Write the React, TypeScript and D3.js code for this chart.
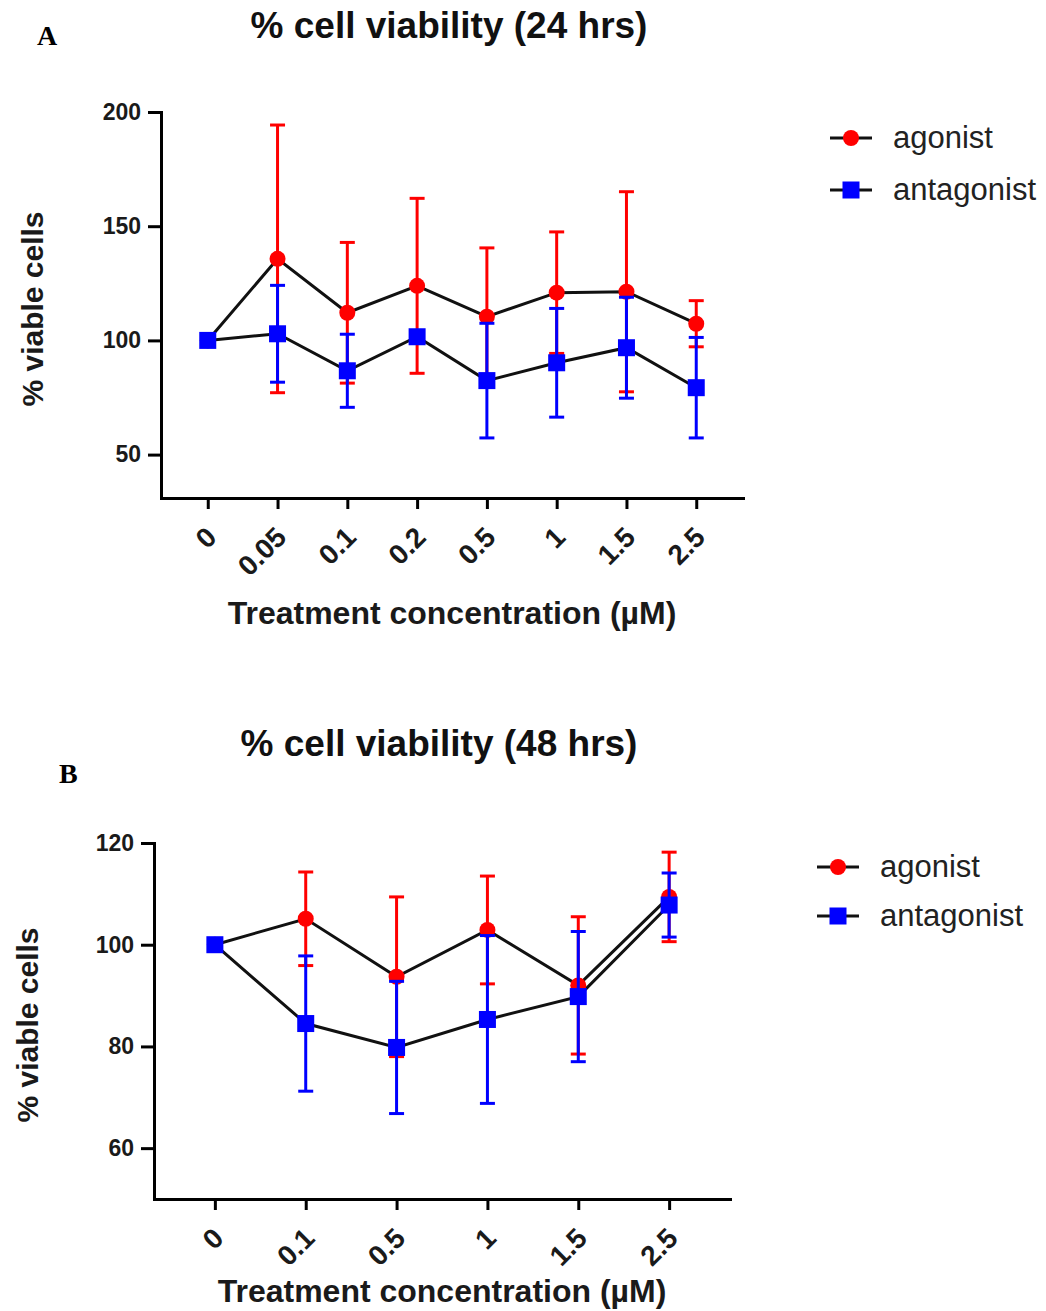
import React, { useEffect, useRef } from 'react';
import * as d3 from 'd3';

// Panel A (24 hrs)
const dosesA = ['0', '0.05', '0.1', '0.2', '0.5', '1', '1.5', '2.5'];
const agonistA = [100, 135.7, 112.1, 123.9, 110.4, 120.9, 121.3, 107.3];
const agonistSdA = [0, 58.6, 30.8, 38.3, 30.1, 26.6, 43.8, 10.1];
const antagonistA = [100, 102.9, 86.7, 101.6, 82.4, 90.2, 96.8, 79.3];
const antagonistSdA = [0, 21.2, 16, 2, 25.1, 23.8, 22.1, 22];
const yTicksA = [50, 100, 150, 200];

// Panel B (48 hrs)
const dosesB = ['0', '0.1', '0.5', '1', '1.5', '2.5'];
const agonistB = [100, 105.1, 93.7, 102.9, 92.0, 109.4];
const agonistSdB = [0, 9.2, 15.7, 10.6, 13.5, 8.8];
const antagonistB = [100, 84.5, 79.8, 85.3, 89.8, 107.8];
const antagonistSdB = [0, 13.3, 13, 16.5, 12.8, 6.3];
const yTicksB = [60, 80, 100, 120];

const seriesNames = ['agonist', 'antagonist'];
const RED = '#ff0000';
const BLUE = '#0000ff';
const FONT = '"Liberation Sans", Arial, Helvetica, sans-serif';

const panels = [
    {
        letter: 'A', letterX: 37, letterY: 45,
        title: '% cell viability (24 hrs)', titleY: 38,
        doses: dosesA, ag: agonistA, agSd: agonistSdA, an: antagonistA, anSd: antagonistSdA,
        yTicks: yTicksA, yDomain: [31, 200],
        left: 161, right: 743, top: 112, bottom: 498,
        xTitleY: 624, yTitleX: 43,
        legendX: 830, legendY: 138, legendGap: 52
    },
    {
        letter: 'B', letterX: 59, letterY: 783,
        title: '% cell viability (48 hrs)', titleY: 756,
        doses: dosesB, ag: agonistB, agSd: agonistSdB, an: antagonistB, anSd: antagonistSdB,
        yTicks: yTicksB, yDomain: [50, 120],
        left: 154, right: 730, top: 843, bottom: 1199,
        xTitleY: 1302, yTitleX: 38,
        legendX: 817, legendY: 867, legendGap: 49
    }
];

function drawPanel(svg, p) {
    const g = svg.append('g');

    const x = d3.scalePoint().domain(p.doses).range([p.left, p.right]).padding(0.67);
    const y = d3.scaleLinear().domain(p.yDomain).range([p.bottom, p.top]);

    // Panel letter
    g.append('text')
        .attr('x', p.letterX).attr('y', p.letterY)
        .style('font-family', '"Liberation Serif", "Times New Roman", serif')
        .style('font-weight', 'bold').style('font-size', '28px')
        .text(p.letter);

    // Title
    g.append('text')
        .attr('x', (p.left + p.right) / 2 - 3).attr('y', p.titleY)
        .attr('text-anchor', 'middle')
        .style('font-family', FONT).style('font-weight', 'bold').style('font-size', '37px')
        .style('fill', '#111')
        .text(p.title);

    // Y axis
    const yAxis = g.append('g')
        .attr('transform', `translate(${p.left},0)`)
        .call(d3.axisLeft(y).tickValues(p.yTicks).tickSize(13).tickSizeOuter(0).tickPadding(7));
    yAxis.select('.domain').attr('stroke-width', 3).attr('stroke-linecap', 'square');
    yAxis.selectAll('.tick line').attr('stroke-width', 3);
    yAxis.selectAll('text')
        .attr('font-size', null)
        .style('font-family', FONT).style('font-weight', 'bold').style('font-size', '23px')
        .style('fill', '#1a1a1a');

    // X axis
    const xAxis = g.append('g')
        .attr('transform', `translate(0,${p.bottom})`)
        .call(d3.axisBottom(x).tickSize(11).tickSizeOuter(0));
    xAxis.select('.domain').attr('stroke-width', 3).attr('stroke-linecap', 'square');
    xAxis.selectAll('.tick line').attr('stroke-width', 3);
    xAxis.selectAll('text')
        .attr('x', 0).attr('y', 0).attr('dy', '0.35em')
        .attr('text-anchor', 'end')
        .attr('transform', 'translate(3,34) rotate(-45)')
        .style('font-family', FONT).style('font-weight', 'bold').style('font-size', '28px')
        .style('fill', '#1a1a1a');

    // Axis titles
    g.append('text')
        .attr('x', (p.left + p.right) / 2).attr('y', p.xTitleY)
        .attr('text-anchor', 'middle')
        .style('font-family', FONT).style('font-weight', 'bold').style('font-size', '32px')
        .style('fill', '#1a1a1a')
        .text('Treatment concentration (µM)');

    const yMid = (p.top + p.bottom) / 2 + 4;
    g.append('text')
        .attr('transform', `translate(${p.yTitleX},${yMid}) rotate(-90)`)
        .attr('text-anchor', 'middle')
        .style('font-family', FONT).style('font-weight', 'bold').style('font-size', '30px')
        .style('fill', '#1a1a1a')
        .text('% viable cells');

    const series = [
        { name: seriesNames[0], values: p.ag, sd: p.agSd, color: RED, shape: 'circle' },
        { name: seriesNames[1], values: p.an, sd: p.anSd, color: BLUE, shape: 'square' }
    ];

    const line = d3.line()
        .x((d, i) => x(p.doses[i]))
        .y(d => y(d));

    // Connecting lines
    series.forEach(s => {
        g.append('path')
            .datum(s.values)
            .attr('fill', 'none')
            .attr('stroke', '#111')
            .attr('stroke-width', 3)
            .attr('d', line);
    });

    const capHalf = 7.5;
    series.forEach(s => {
        const pts = s.values.map((v, i) => ({ dose: p.doses[i], v, sd: s.sd[i] }));
        const bars = g.append('g');
        pts.filter(d => d.sd > 0).forEach(d => {
            const cx = x(d.dose);
            const hi = y(d.v + d.sd);
            const lo = y(d.v - d.sd);
            bars.append('line').attr('x1', cx).attr('x2', cx).attr('y1', hi).attr('y2', lo)
                .attr('stroke', s.color).attr('stroke-width', 3);
            [hi, lo].forEach(yy => {
                bars.append('line').attr('x1', cx - capHalf).attr('x2', cx + capHalf)
                    .attr('y1', yy).attr('y2', yy)
                    .attr('stroke', s.color).attr('stroke-width', 3);
            });
        });
        if (s.shape === 'circle') {
            g.selectAll(null).data(pts).enter().append('circle')
                .attr('cx', d => x(d.dose)).attr('cy', d => y(d.v))
                .attr('r', 8).attr('fill', s.color);
        } else {
            g.selectAll(null).data(pts).enter().append('rect')
                .attr('x', d => x(d.dose) - 8.5).attr('y', d => y(d.v) - 8.5)
                .attr('width', 17).attr('height', 17).attr('fill', s.color);
        }
    });

    // Legend
    series.forEach((s, i) => {
        const ly = p.legendY + i * p.legendGap;
        const row = g.append('g').attr('transform', `translate(${p.legendX},${ly})`);
        row.append('line').attr('x1', 0).attr('x2', 42).attr('y1', 0).attr('y2', 0)
            .attr('stroke', '#111').attr('stroke-width', 3);
        if (s.shape === 'circle') {
            row.append('circle').attr('cx', 21).attr('cy', 0).attr('r', 8).attr('fill', s.color);
        } else {
            row.append('rect').attr('x', 12.5).attr('y', -8.5).attr('width', 17).attr('height', 17)
                .attr('fill', s.color);
        }
        row.append('text')
            .attr('x', 63).attr('y', 0).attr('dy', '0.33em')
            .style('font-family', FONT).style('font-size', '31px')
            .style('fill', '#222')
            .text(s.name);
    });
}

export default function App() {
    const svgRef = useRef<SVGSVGElement>(null);

    useEffect(() => {
        if (!svgRef.current) return;
        const svg = d3.select(svgRef.current);
        svg.selectAll('*').remove();
        panels.forEach(p => drawPanel(svg, p));
    }, []);

    return (
        <svg
            ref={svgRef}
            width={1046}
            height={1311}
            style={{ position: 'absolute', left: 0, top: 0, background: '#fff' }}
        />
    );
}
